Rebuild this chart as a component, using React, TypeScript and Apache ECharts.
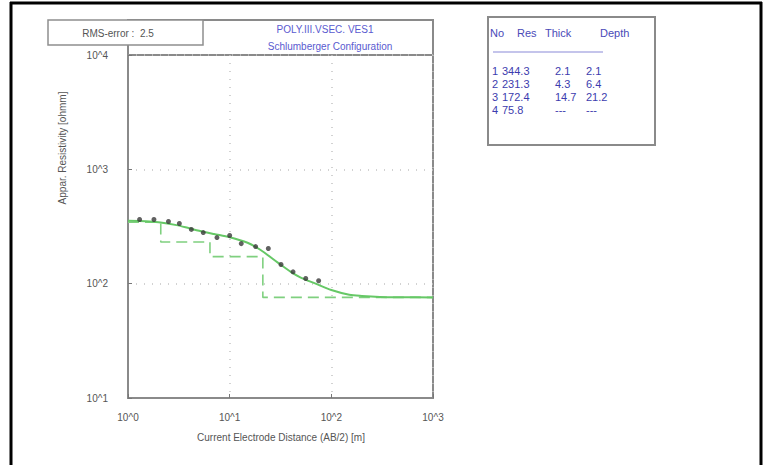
import React, { useEffect, useRef } from "react";
import * as echarts from "echarts";

// ---- data ----
const xTickValues = [1, 10, 100, 1000];
const yTickValues = [10, 100, 1000, 10000];
const obsAB2 = [1.3, 1.8, 2.5, 3.2, 4.2, 5.5, 7.5, 10, 13, 18, 24, 32, 42, 56, 75];
const obsRho = [364, 364, 350, 336, 298, 280, 253, 264, 224, 211, 203, 147, 127, 111, 106];
const fitAB2 = [1, 1.5, 2, 3, 4, 5, 7, 10, 15, 20, 30, 40, 50, 70, 100, 150, 200, 300, 500, 1000];
const fitRho = [355, 352, 345, 325, 305, 290, 272, 255, 228, 198, 152, 127, 113, 100, 88, 80, 78, 76.5, 76, 75.8];
const layerNo = ["1", "2", "3", "4"];
const layerRes = [344.3, 231.3, 172.4, 75.8];
const layerThick = ["2.1", "4.3", "14.7", "---"];
const layerDepth = [2.1, 6.4, 21.2];
const tableHeaders = ["No", "Res", "Thick", "Depth"];
const rmsText = "RMS-error :  2.5";
const titleLines = ["POLY.III.VSEC. VES1", "Schlumberger Configuration"];
const xName = "Current Electrode Distance (AB/2) [m]";
const yName = "Appar. Resistivity [ohmm]";

const FONT = "'Liberation Sans', Arial, sans-serif";

export default function App() {
  const ref = useRef<HTMLDivElement>(null);
  useEffect(() => {
    if (!ref.current) return;
    const chart = echarts.init(ref.current, null, { renderer: "svg" });

    const obs = obsAB2.map((x, i) => [x, obsRho[i]]);
    const fit = fitAB2.map((x, i) => [x, fitRho[i]]);
    const steps: number[][] = [];
    let prevX = 1;
    layerRes.forEach((r, i) => {
      steps.push([prevX, r]);
      const d = i < layerDepth.length ? layerDepth[i] : 1000;
      steps.push([d, r]);
      prevX = d;
    });

    const pw = (v: number) => "10^" + Math.round(Math.log10(v));

    const colX = [492, 502, 555, 586];
    const rowY = [71, 84, 97, 110];
    const tableTexts: any[] = [];
    const headerX = [490, 517, 545, 600];
    tableHeaders.forEach((h, i) =>
      tableTexts.push({
        type: "text",
        x: headerX[i],
        y: 33,
        style: { text: h, fill: "#4a4ab8", font: `11px ${FONT}`, verticalAlign: "middle" },
      })
    );
    layerNo.forEach((n, i) => {
      const cells = [
        n,
        String(layerRes[i]),
        layerThick[i],
        i < layerDepth.length ? String(layerDepth[i]) : "---",
      ];
      cells.forEach((c, j) =>
        tableTexts.push({
          type: "text",
          x: colX[j],
          y: rowY[i],
          style: { text: c, fill: "#3c3cae", font: `11px ${FONT}`, verticalAlign: "middle" },
        })
      );
    });

    chart.setOption({
      animation: false,
      backgroundColor: "#ffffff",
      grid: {
        left: 128,
        top: 55,
        width: 305,
        height: 343,
        show: true,
        borderColor: "#8a8a8a",
        borderWidth: 2,
        backgroundColor: "#ffffff",
      },
      xAxis: {
        type: "log",
        logBase: 10,
        min: xTickValues[0],
        max: xTickValues[xTickValues.length - 1],
        axisLine: { show: true, lineStyle: { color: "#8a8a8a", width: 2 } },
        axisTick: { show: true, inside: true, length: 4, lineStyle: { color: "#777" } },
        axisLabel: { formatter: pw, color: "#555", fontSize: 10, fontFamily: FONT, margin: 14 },
        splitLine: { show: true, lineStyle: { color: "#c4c4c4", type: [1, 7], width: 1.5 } },
      },
      yAxis: {
        type: "log",
        logBase: 10,
        min: yTickValues[0],
        max: yTickValues[yTickValues.length - 1],
        axisLine: { show: true, lineStyle: { color: "#8a8a8a", width: 2 } },
        axisTick: { show: true, inside: true, length: 4, lineStyle: { color: "#777" } },
        axisLabel: { formatter: pw, color: "#555", fontSize: 10, fontFamily: FONT, margin: 20 },
        splitLine: { show: true, lineStyle: { color: "#c4c4c4", type: [1, 7], width: 1.5 } },
      },
      series: [
        {
          type: "line",
          data: steps,
          showSymbol: false,
          lineStyle: { color: "#7fd07f", width: 1.6, type: [11, 6] },
          z: 2,
        },
        {
          type: "line",
          data: fit,
          smooth: 0.3,
          showSymbol: false,
          lineStyle: { color: "#66c866", width: 2 },
          z: 3,
        },
        {
          type: "scatter",
          data: obs,
          symbol: "circle",
          symbolSize: 5,
          itemStyle: { color: "#3a3a3a" },
          z: 4,
        },
      ],
      graphic: [
        // outer frame
        { type: "line", shape: { x1: 10, y1: 3, x2: 762, y2: 3 }, style: { stroke: "#000", lineWidth: 3 } },
        { type: "line", shape: { x1: 11, y1: 2, x2: 11, y2: 465 }, style: { stroke: "#000", lineWidth: 3 } },
        { type: "line", shape: { x1: 761, y1: 2, x2: 761, y2: 465 }, style: { stroke: "#000", lineWidth: 3 } },
        // title box
        {
          type: "rect",
          shape: { x: 128, y: 20, width: 305, height: 35 },
          style: { fill: "#fff", stroke: "#8a8a8a", lineWidth: 2 },
        },
        {
          type: "text",
          x: 325,
          y: 29,
          style: { text: titleLines[0], fill: "#5a5ad0", font: `10px ${FONT}`, align: "center", verticalAlign: "middle" },
        },
        {
          type: "text",
          x: 330,
          y: 46,
          style: { text: titleLines[1], fill: "#5a5ad0", font: `10px ${FONT}`, align: "center", verticalAlign: "middle" },
        },
        // RMS box (drawn over the title box)
        {
          type: "rect",
          shape: { x: 48, y: 20, width: 155, height: 25 },
          style: { fill: "#fff", stroke: "#8f8f8f", lineWidth: 1.5 },
        },
        {
          type: "text",
          x: 118,
          y: 33,
          style: { text: rmsText, fill: "#555", font: `10px ${FONT}`, align: "center", verticalAlign: "middle" },
        },
        // table box
        {
          type: "rect",
          shape: { x: 488, y: 17, width: 167, height: 128 },
          style: { fill: "#fff", stroke: "#8a8a8a", lineWidth: 2 },
        },
        { type: "line", shape: { x1: 493, y1: 52, x2: 603, y2: 52 }, style: { stroke: "#8a8ad8", lineWidth: 1.2 } },
        ...tableTexts,
        // axis names
        {
          type: "text",
          x: 62,
          y: 148,
          rotation: Math.PI / 2,
          style: { text: yName, fill: "#555", font: `10px ${FONT}`, align: "center", verticalAlign: "middle" },
        },
        {
          type: "text",
          x: 281,
          y: 437,
          style: { text: xName, fill: "#555", font: `10px ${FONT}`, align: "center", verticalAlign: "middle" },
        },
      ],
    });
    return () => chart.dispose();
  }, []);
  return (
    <div
      ref={ref}
      style={{ position: "fixed", left: 0, top: 0, width: 769, height: 465, background: "#fff" }}
    />
  );
}
